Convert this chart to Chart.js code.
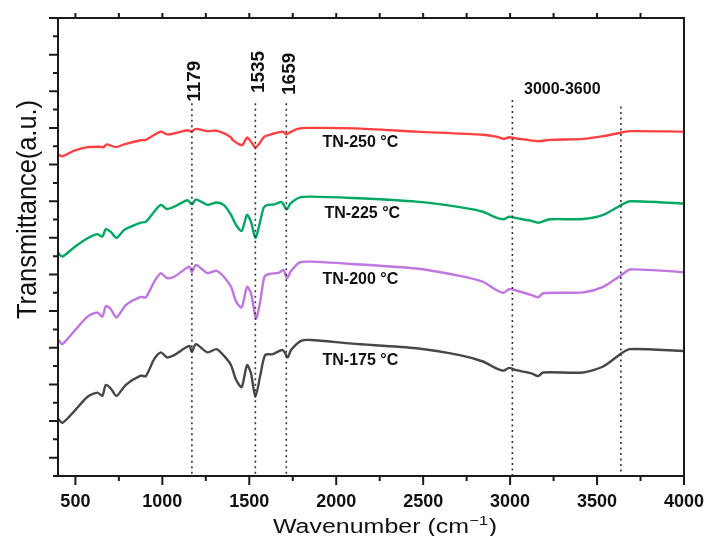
<!DOCTYPE html>
<html>
<head>
<meta charset="utf-8">
<script src="https://cdn.jsdelivr.net/npm/chart.js@4.4.1/dist/chart.umd.min.js"></script>
<style>
  html,body{margin:0;padding:0;background:#fff}
  canvas{display:block}
</style>
</head>
<body>
<canvas id="chart" width="706" height="536"></canvas>
<script>
// ---------- data (wavenumber cm-1, transmittance a.u.) ----------
const wnTicks = [500,1000,1500,2000,2500,3000,3500,4000];

const tn250 = [[400,70.2],[425,69.8],[490,71.0],[570,71.8],[636,71.9],[661,71.8],[680,72.4],[732,71.8],[780,72.4],[876,73.3],[905,73.4],[990,75.2],[1026,74.6],[1068,74.8],[1145,75.5],[1168,75.2],[1193,75.8],[1260,75.3],[1308,75.4],[1356,74.8],[1395,73.9],[1404,73.4],[1443,72.4],[1462,72.3],[1487,73.9],[1510,73.0],[1535,71.7],[1558,72.6],[1587,74.1],[1625,74.6],[1692,75.2],[1713,74.6],[1731,75.0],[1778,75.8],[1836,76.0],[2105,75.9],[2460,75.2],[2844,74.5],[2921,74.1],[2963,73.6],[2994,73.95],[3036,73.7],[3161,73.1],[3228,73.4],[3420,73.6],[3535,74.2],[3641,75.0],[3689,75.3],[4000,75.2]];

const tn225 = [[400,48.8],[425,47.9],[490,49.85],[570,51.9],[626,52.8],[655,52.3],[675,53.9],[704,53.3],[736,52.0],[780,53.7],[876,55.3],[905,55.5],[953,57.7],[992,59.2],[1026,58.3],[1068,58.8],[1145,60.2],[1170,59.3],[1193,60.4],[1260,59.2],[1312,59.7],[1356,59.1],[1395,57.0],[1424,54.8],[1456,53.5],[1487,57.0],[1510,55.5],[1535,52.0],[1558,54.8],[1583,58.6],[1606,59.2],[1644,59.3],[1686,59.8],[1715,58.2],[1737,59.5],[1788,60.8],[1856,61.0],[2090,60.7],[2460,59.9],[2710,58.7],[2844,57.7],[2921,56.4],[2963,56.05],[2994,56.6],[3036,56.3],[3123,55.7],[3161,55.3],[3228,56.05],[3420,56.1],[3535,57.0],[3641,59.2],[3689,60.0],[4000,59.5]];

const tn200 = [[400,29.85],[425,28.8],[490,31.5],[570,34.8],[626,35.7],[655,34.8],[675,37.1],[704,36.4],[736,34.6],[790,37.3],[876,39.1],[905,39.0],[953,42.4],[992,44.3],[1026,43.2],[1068,43.5],[1155,45.7],[1170,44.5],[1193,46.1],[1260,44.3],[1312,44.8],[1356,43.4],[1395,41.3],[1424,38.1],[1456,36.8],[1487,41.3],[1510,39.9],[1539,34.4],[1564,38.4],[1587,43.5],[1615,44.1],[1673,44.4],[1696,45.0],[1717,43.2],[1737,44.6],[1788,46.6],[1856,46.8],[2090,46.3],[2460,45.3],[2710,43.7],[2844,42.4],[2921,40.6],[2963,40.0],[2994,40.8],[3036,40.5],[3123,39.5],[3161,39.0],[3190,39.9],[3420,40.1],[3535,41.3],[3641,43.9],[3689,45.1],[4000,44.5]];

const tn175 = [[400,12.6],[425,11.6],[490,14.0],[570,17.3],[626,18.2],[655,17.5],[675,19.9],[704,19.1],[736,17.5],[790,19.9],[876,21.9],[905,21.8],[953,25.5],[992,27.0],[1026,25.9],[1068,26.4],[1155,28.4],[1170,27.1],[1193,28.8],[1260,27.0],[1312,27.7],[1360,26.0],[1395,24.2],[1424,21.0],[1456,19.4],[1487,24.2],[1510,22.4],[1535,17.3],[1564,22.1],[1591,26.4],[1634,26.6],[1692,27.5],[1721,25.9],[1740,27.5],[1798,29.5],[1856,29.7],[2090,28.9],[2460,27.9],[2710,26.4],[2844,25.0],[2921,23.5],[2963,23.0],[2994,23.6],[3036,23.1],[3123,22.4],[3161,21.8],[3190,22.6],[3420,22.6],[3535,23.9],[3641,26.8],[3689,27.7],[4000,27.3]];

const seriesNames  = ['TN-250 °C','TN-225 °C','TN-200 °C','TN-175 °C'];
const seriesColors = ['#ff4040','#00a862','#c075e0','#474747'];
const nameX = [1921,1932,1921,1921];
const nameY = [72.7,57.4,42.8,25.3];

// dotted guide lines
const markX   = [1170,1535,1713,3013,3637];
const markTop = [81.4,81.4,81.4,82.1,80.7];
const markText  = ['1179','1535','1659'];
const markTextY = [81.7,83.6,83.2];
const rangeText = '3000-3600';
const rangeX = 3300, rangeY = 84.3;

// ---------- helpers ----------
const FONT = '"Liberation Sans", Arial, sans-serif';
const toXY = arr => arr.map(p => ({x:p[0], y:p[1]}));

const curves = [tn250, tn225, tn200, tn175].map((d,i)=>({
  label: seriesNames[i], data: toXY(d),
  borderColor: seriesColors[i], borderWidth: 2.4,
  pointRadius: 0, tension: 0.25, fill: false
}));
const guides = markX.map((v,i)=>({
  label: 'guide'+i, data: [{x:v,y:markTop[i]},{x:v,y:0}],
  borderColor: '#333', borderWidth: 1.6, borderDash: [2,3.5],
  pointRadius: 0, fill: false
}));

// frame, tick marks and all free text
const deco = {
  id: 'deco',
  afterDraw(chart){
    const {ctx, chartArea:a, scales:{x, y}} = chart;
    ctx.save();
    ctx.strokeStyle = '#1a1a1a';
    ctx.lineWidth = 2;
    ctx.strokeRect(a.left, a.top, a.right-a.left, a.bottom-a.top);

    ctx.beginPath();
    for(let v=500; v<=4000; v+=250){
      const px = x.getPixelForValue(v);
      const len = v%500===0 ? 9 : 5;
      ctx.moveTo(px, a.bottom); ctx.lineTo(px, a.bottom+len);
      if(v<4000){ ctx.moveTo(px, a.top); ctx.lineTo(px, a.top-5); }
    }
    for(let v=0; v<=100; v+=4){
      const py = y.getPixelForValue(v);
      const len = (v%8===4) ? 9 : 5;
      ctx.moveTo(a.left, py); ctx.lineTo(a.left-len, py);
    }
    ctx.stroke();

    ctx.fillStyle = '#111';
    // series names
    ctx.font = 'bold 16px '+FONT;
    ctx.textAlign = 'left'; ctx.textBaseline = 'middle';
    seriesNames.forEach((s,i)=>ctx.fillText(s, x.getPixelForValue(nameX[i]), y.getPixelForValue(nameY[i])));

    // rotated peak labels
    ctx.font = 'bold 19px '+FONT;
    markText.forEach((s,i)=>{
      ctx.save();
      ctx.translate(x.getPixelForValue(markX[i])+3, y.getPixelForValue(markTextY[i]));
      ctx.rotate(-Math.PI/2);
      ctx.textAlign = 'left'; ctx.textBaseline = 'middle';
      ctx.fillText(s, 0, 0);
      ctx.restore();
    });
    ctx.font = 'bold 16px '+FONT;
    ctx.textAlign = 'center';
    ctx.fillText(rangeText, x.getPixelForValue(rangeX), y.getPixelForValue(rangeY));

    // x title with superscript
    ctx.textAlign = 'left'; ctx.textBaseline = 'alphabetic';
    const main = 'Wavenumber (cm', sup = '\u22121', end = ')';
    ctx.font = '20px '+FONT; const w1 = ctx.measureText(main).width, w3 = ctx.measureText(end).width;
    ctx.font = '13px '+FONT; const w2 = ctx.measureText(sup).width;
    const sx = 224/(w1+w2+w3+1);
    ctx.save();
    ctx.translate(273, 533); ctx.scale(sx, 1);
    ctx.font = '20px '+FONT; ctx.fillText(main, 0, 0);
    ctx.font = '13px '+FONT; ctx.fillText(sup, w1+0.5, -8);
    ctx.font = '20px '+FONT; ctx.fillText(end, w1+w2+1, 0);
    ctx.restore();

    // y title
    ctx.save();
    ctx.font = '28px '+FONT;
    const yt = 'Transmittance(a.u.)';
    const ws = 219/ctx.measureText(yt).width;
    ctx.translate(36, 319); ctx.rotate(-Math.PI/2); ctx.scale(ws, 1);
    ctx.fillText(yt, 0, 0);
    ctx.restore();
    ctx.restore();
  }
};

new Chart(document.getElementById('chart'), {
  type: 'line',
  data: { datasets: [...guides, ...curves] },
  options: {
    responsive: false, animation: false,
    layout: { padding: { top: 18, right: 22, left: 0, bottom: 0 } },
    plugins: { legend: { display: false }, tooltip: { enabled: false } },
    scales: {
      x: {
        type: 'linear', min: 400, max: 4000,
        afterBuildTicks: s => { s.ticks = wnTicks.map(v => ({value: v})); },
        afterFit: s => { s.height = 60; s.paddingLeft = 0; s.paddingRight = 0; },
        grid: { display: false }, border: { display: false },
        ticks: { color: '#111', padding: 7, maxRotation: 0,
                 callback: v => String(v),
                 font: { family: FONT, size: 18, weight: 'bold' } }
      },
      y: {
        min: 0, max: 100,
        afterFit: s => { s.width = 58; s.paddingTop = 0; s.paddingBottom = 0; },
        grid: { display: false }, border: { display: false },
        ticks: { display: false }
      }
    }
  },
  plugins: [deco]
});
</script>
</body>
</html>
